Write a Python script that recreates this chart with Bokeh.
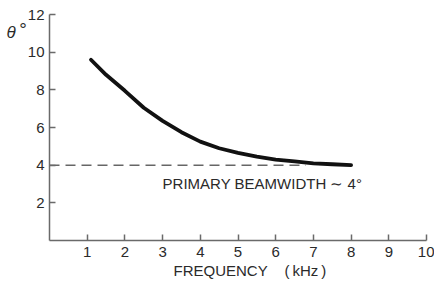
from bokeh.plotting import figure
from bokeh.models import Range1d, FixedTicker, Label, LinearAxis
from bokeh.embed import file_html
from bokeh.resources import INLINE

freq = [1.1, 1.5, 2.0, 2.5, 3.0, 3.5, 4.0, 4.5, 5.0, 5.5, 6.0, 6.5, 7.0, 7.5, 8.0]
theta = [9.6, 8.8, 7.95, 7.05, 6.35, 5.75, 5.25, 4.9, 4.65, 4.45, 4.3, 4.2, 4.1, 4.05, 4.0]
beam_x = [0.0, 6.8]
beam_y = [4.0, 4.0]
x_ticks = [1, 2, 3, 4, 5, 6, 7, 8, 9, 10]
y_ticks = [2, 4, 6, 8, 10, 12]

W, H = 434, 283
# whole canvas is the frame; axes are pinned at 0 so outer texts stay inside it
XU = 37.7   # px per kHz
YU = 18.83  # px per degree
x0_px, y0_px = 49, 240
p = figure(width=W, height=H, output_backend="svg", toolbar_location=None,
           x_range=Range1d(-x0_px / XU, (W - x0_px) / XU),
           y_range=Range1d(-(H - y0_px) / YU, y0_px / YU),
           x_axis_type=None, y_axis_type=None, min_border=0)
p.outline_line_color = None
p.grid.visible = False
p.background_fill_color = "white"

FONT = "Liberation Sans"
AX = "#6a6a6a"
TXT = "#2a2a2a"

xa = LinearAxis(ticker=FixedTicker(ticks=x_ticks), fixed_location=0, bounds=(0, 10))
ya = LinearAxis(ticker=FixedTicker(ticks=y_ticks), fixed_location=0, bounds=(0, 12))
for ax in (xa, ya):
    ax.axis_line_color = AX
    ax.axis_line_width = 1.5
    ax.major_tick_line_color = AX
    ax.major_tick_line_width = 1.5
    ax.major_tick_in = 6
    ax.major_tick_out = 0
    ax.minor_tick_line_color = None
    ax.major_label_text_font = FONT
    ax.major_label_text_font_size = "15px"
    ax.major_label_text_color = TXT
    ax.major_label_standoff = 5
xa.major_label_standoff = 6
p.add_layout(xa, "below")
p.add_layout(ya, "left")

p.line(beam_x, beam_y, line_color="#666666", line_width=1.5, line_dash="10 6")
p.line(freq, theta, line_color="#111111", line_width=3.8, line_cap="round")

p.add_layout(Label(x=3.0, y=3.03, text="PRIMARY BEAMWIDTH \u223c 4°", text_font=FONT,
                   text_font_size="15px", text_color=TXT, text_baseline="middle"))
p.add_layout(Label(x=3.29, y=-1.59,
                   text="FREQUENCY\u00a0\u00a0\u00a0\u00a0(\u2009kHz\u2009)", text_font=FONT,
                   text_font_size="15px", text_color=TXT, text_baseline="middle"))
p.add_layout(Label(x=-1.14, y=11.05, text="θ",
                   text_font=FONT, text_baseline="middle",
                   text_font_size="17px", text_font_style="italic", text_color=TXT))
p.add_layout(Label(x=-0.8, y=11.2, text="°",
                   text_font=FONT, text_baseline="middle",
                   text_font_size="19px", text_color=TXT))

open("out.html", "w").write(file_html(p, INLINE))
